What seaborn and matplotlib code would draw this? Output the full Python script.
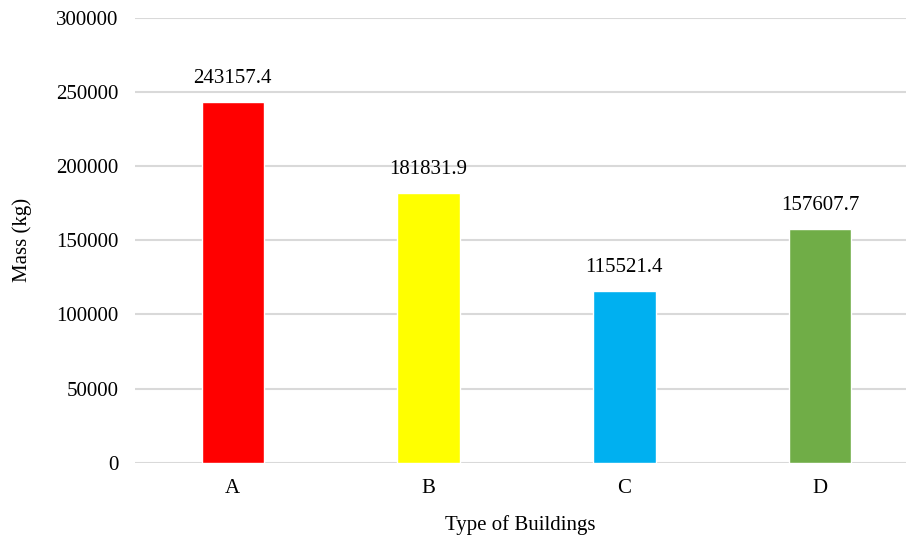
import matplotlib
matplotlib.use("Agg")
import matplotlib.pyplot as plt
import seaborn as sns
import pandas as pd

buildings = ["A", "B", "C", "D"]
mass_kg = [243157.4, 181831.9, 115521.4, 157607.7]
bar_colors = ["#FF0000", "#FFFF00", "#00B0F0", "#70AD47"]
y_ticks = [0, 50000, 100000, 150000, 200000, 250000, 300000]

sns.set_theme(style="white")
plt.rcParams["font.family"] = ["Liberation Serif", "DejaVu Serif"]
plt.rcParams["text.color"] = "black"
plt.rcParams["axes.labelcolor"] = "black"
plt.rcParams["xtick.color"] = "black"
plt.rcParams["ytick.color"] = "black"

df = pd.DataFrame({"Type of Buildings": buildings, "Mass (kg)": mass_kg})

fig = plt.figure(figsize=(9.06, 5.36), dpi=100)
ax = fig.add_axes([135 / 906, 73.3 / 536, 771 / 906, 445.2 / 536])

sns.barplot(data=df, x="Type of Buildings", y="Mass (kg)", hue="Type of Buildings",
            palette=bar_colors, width=0.32, legend=False, ax=ax, saturation=1, zorder=3)

ax.set_xlim(-0.5, 3.44)
ax.set_ylim(0, 300000)
ax.set_yticks(y_ticks)
ax.set_yticklabels([str(t) for t in y_ticks], fontsize=15)
ax.tick_params(axis="x", labelsize=15, length=0, pad=12)
ax.tick_params(axis="y", length=0, pad=12)
ax.grid(axis="y", color="#D9D9D9", linewidth=1.5, zorder=0)
ax.set_axisbelow(True)
for s in ax.spines.values():
    s.set_visible(False)

ax.set_xlabel("Type of Buildings", fontsize=15, labelpad=12)
ax.set_ylabel("Mass (kg)", fontsize=15, labelpad=17)

for i, v in enumerate(mass_kg):
    ax.annotate(f"{v:.1f}", (i, v), xytext=(0, 10), textcoords="offset points",
                ha="center", va="bottom", fontsize=15)

fig.savefig("out.png", dpi=100)
